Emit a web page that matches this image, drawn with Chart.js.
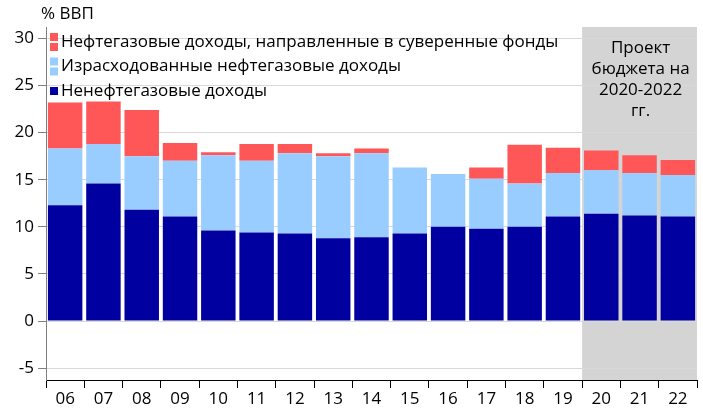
<!DOCTYPE html>
<html><head><meta charset="utf-8">
<script src="https://cdn.jsdelivr.net/npm/chart.js@4.4.1/dist/chart.umd.min.js"></script>
<style>html,body{margin:0;padding:0;background:#fff;}#wrap{width:703px;height:415px;}</style>
</head><body><div id="wrap"><canvas id="c" width="703" height="415"></canvas></div>
<script>
const categories = ['06','07','08','09','10','11','12','13','14','15','16','17','18','19','20','21','22'];
const nonOil   = [12.3,14.6,11.8,11.1,9.6,9.4,9.3,8.8,8.9,9.3,10.0,9.8,10.0,11.1,11.4,11.2,11.1];
const oilSpent = [6.0,4.2,5.7,5.9,8.0,7.6,8.5,8.7,8.9,7.0,5.6,5.3,4.6,4.6,4.6,4.5,4.4];
const oilFunds = [4.9,4.5,4.9,1.9,0.3,1.8,1.0,0.3,0.5,0,0,1.2,4.1,2.7,2.1,1.9,1.6];
const seriesNames = ['Ненефтегазовые доходы','Израсходованные нефтегазовые доходы','Нефтегазовые доходы, направленные в суверенные фонды'];
const yTicks = [-5,0,5,10,15,20,25,30];
const projectLines = ['Проект','бюджета на','2020-2022','гг.'];
const unitLabel = '% ВВП';
const projectStartIndex = 14;

const colors = ['#0000A0','#99CCFF','#FF5757'];
const FONT = '"Open Sans", "Noto Sans", sans-serif';

const decor = {
  id:'decor',
  beforeDraw(chart){
    const {ctx, chartArea:a, scales:{x}} = chart;
    const left = (x.getPixelForValue(projectStartIndex-1)+x.getPixelForValue(projectStartIndex))/2;
    ctx.save();
    ctx.fillStyle = '#D4D4D4';
    ctx.fillRect(left, a.top, a.right-left, a.bottom-a.top);
    ctx.restore();
  },
  afterDraw(chart){
    const {ctx, chartArea:a, scales:{x}} = chart;
    const left = (x.getPixelForValue(projectStartIndex-1)+x.getPixelForValue(projectStartIndex))/2;
    ctx.save();
    ctx.fillStyle = '#000';
    ctx.font = '17px ' + FONT;
    ctx.textAlign = 'center';
    ctx.textBaseline = 'middle';
    const cx = (left + a.right)/2 + 1;
    projectLines.forEach((t,i)=>ctx.fillText(t, cx, 48 + i*21));
    ctx.textAlign = 'left';
    ctx.fillText(unitLabel, 41, 14);
    const items = [2,1,0];
    items.forEach((di,i)=>{
      const y = 42 + i*24.5;
      ctx.fillStyle = colors[di];
      if (di===0) ctx.fillRect(50, y-4, 8, 8);
      else { ctx.fillRect(50, y-9, 8, 8); ctx.fillRect(50, y+1, 8, 8); }
      ctx.fillStyle = '#000';
      ctx.textAlign = 'left';
      ctx.fillText(seriesNames[di], 61, y);
    });
    ctx.restore();
  }
};

new Chart(document.getElementById('c'), {
  type:'bar',
  data:{
    labels: categories,
    datasets:[
      {label:seriesNames[0], data:nonOil, backgroundColor:colors[0]},
      {label:seriesNames[1], data:oilSpent, backgroundColor:colors[1]},
      {label:seriesNames[2], data:oilFunds, backgroundColor:colors[2]}
    ]
  },
  options:{
    responsive:false, animation:false, devicePixelRatio:1,
    layout:{padding:{top:27,right:6,left:0,bottom:0}},
    datasets:{bar:{barPercentage:0.9, categoryPercentage:1.0, borderWidth:0}},
    plugins:{legend:{display:false}, tooltip:{enabled:false}, title:{display:false}},
    scales:{
      x:{
        stacked:true, offset:true,
        grid:{offset:true, drawOnChartArea:false, color:'#000', tickLength:8, tickColor:'#000'},
        border:{color:'#000', width:1},
        ticks:{color:'#000', font:{size:17, family:FONT}, padding:1, maxRotation:0, autoSkip:false},
        afterFit(s){ s.height = 35; }
      },
      y:{
        stacked:true, min:-6.25, max:31.2,
        grid:{color:'#D9D9D9', tickLength:8, tickColor:'#808080'},
        border:{color:'#808080', width:1},
        ticks:{color:'#000', font:{size:17, family:FONT}, padding:4, stepSize:5},
        afterBuildTicks(s){ s.ticks = yTicks.map(v=>({value:v})); },
        afterFit(s){ s.width = 46; }
      }
    }
  },
  plugins:[decor]
});
</script></body></html>
